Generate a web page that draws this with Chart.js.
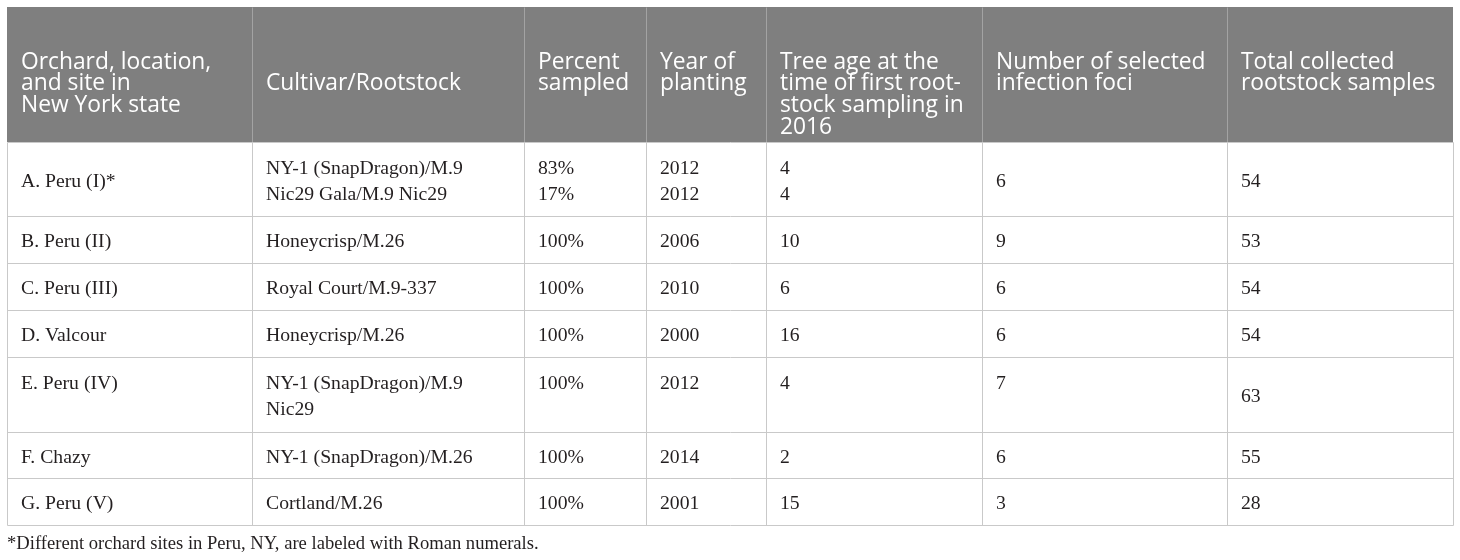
<!DOCTYPE html>
<html>
<head>
<meta charset="utf-8">
<script src="https://cdn.jsdelivr.net/npm/chart.js@4"></script>
<style>
  html, body { margin: 0; padding: 0; background: #ffffff; }
  #wrap { width: 1460px; height: 560px; position: relative; }
</style>
</head>
<body>
<div id="wrap"><canvas id="c" width="1460" height="560"></canvas></div>
<script>
// ---------- DATA ----------
const headers = [
  ["Orchard, location,", "and site in", "New York state"],
  ["", "Cultivar/Rootstock"],
  ["Percent", "sampled"],
  ["Year of", "planting"],
  ["Tree age at the", "time of first root-", "stock sampling in", "2016"],
  ["Number of selected", "infection foci"],
  ["Total collected", "rootstock samples"]
];
const orchards = ["A. Peru (I)*", "B. Peru (II)", "C. Peru (III)", "D. Valcour", "E. Peru (IV)", "F. Chazy", "G. Peru (V)"];
const cultivars = [
  ["NY-1 (SnapDragon)/M.9", "Nic29 Gala/M.9 Nic29"],
  ["Honeycrisp/M.26"],
  ["Royal Court/M.9-337"],
  ["Honeycrisp/M.26"],
  ["NY-1 (SnapDragon)/M.9", "Nic29"],
  ["NY-1 (SnapDragon)/M.26"],
  ["Cortland/M.26"]
];
const percentSampled = [["83%", "17%"], ["100%"], ["100%"], ["100%"], ["100%"], ["100%"], ["100%"]];
const yearOfPlanting = [[2012, 2012], [2006], [2010], [2000], [2012], [2014], [2001]];
const treeAge = [[4, 4], [10], [6], [16], [4], [2], [15]];
const infectionFoci = [6, 9, 6, 6, 7, 6, 3];
const totalSamples = [54, 53, 54, 54, 63, 55, 28];
const footnote = "*Different orchard sites in Peru, NY, are labeled with Roman numerals.";

// ---------- LAYOUT (positions / styles, kept apart from data) ----------
const colEdges = [7, 252, 524, 646, 766, 982, 1227, 1453];
const rowEdges = [7, 142, 216, 263, 310, 357, 432, 478, 525];
const topAligned = { 4: [0, 1, 2, 3, 4, 5] }; // row E: cells start on first line
const style = {
  headerBg: "#7f7f7f",
  headerDivider: "#a3a3a3",
  grid: "#c9c9c9",
  headerFont: '22.8px "Open Sans", "Noto Sans", sans-serif',
  bodyFont: '19.7px "Liberation Serif", "DejaVu Serif", serif',
  footFont: '18.6px "Liberation Serif", "DejaVu Serif", serif',
  bodyColor: "#231f20",
  padX: 14,
  headerFirstBaseline: 68.5,
  headerLineH: 21.8,
  bodyLineH: 26,
  bodyYOffset: 2.5,
  footY: 544
};

// ---------- build rows from the named arrays ----------
const toLines = v => Array.isArray(v) ? v.map(String) : [String(v)];
const bodyRows = orchards.map((o, i) => [
  toLines(o), toLines(cultivars[i]), toLines(percentSampled[i]), toLines(yearOfPlanting[i]),
  toLines(treeAge[i]), toLines(infectionFoci[i]), toLines(totalSamples[i])
]);

const tablePlugin = {
  id: "tablePlugin",
  afterDraw(chart) {
    const ctx = chart.ctx;
    const sx = chart.scales.x, sy = chart.scales.y;
    const X = v => sx.getPixelForValue(v);
    const Y = v => sy.getPixelForValue(v);
    ctx.save();

    // header background
    ctx.fillStyle = style.headerBg;
    ctx.fillRect(X(colEdges[0]), Y(rowEdges[0]), X(colEdges[7]) - X(colEdges[0]), Y(rowEdges[1]) - Y(rowEdges[0]));

    // grid lines
    ctx.lineWidth = 1;
    const line = (x1, y1, x2, y2, c) => {
      ctx.strokeStyle = c;
      ctx.beginPath();
      ctx.moveTo(Math.round(x1) + 0.5, Math.round(y1) + 0.5);
      ctx.lineTo(Math.round(x2) + 0.5, Math.round(y2) + 0.5);
      ctx.stroke();
    };
    for (let c = 1; c < colEdges.length - 1; c++) {
      line(X(colEdges[c]), Y(rowEdges[0]), X(colEdges[c]), Y(rowEdges[1]), style.headerDivider);
    }
    for (let c = 0; c < colEdges.length; c++) {
      line(X(colEdges[c]), Y(rowEdges[1]), X(colEdges[c]), Y(rowEdges[rowEdges.length - 1]), style.grid);
    }
    for (let r = 1; r < rowEdges.length; r++) {
      line(X(colEdges[0]), Y(rowEdges[r]), X(colEdges[7]), Y(rowEdges[r]), style.grid);
    }

    // header text
    ctx.fillStyle = "#ffffff";
    ctx.font = style.headerFont;
    ctx.textAlign = "left";
    ctx.textBaseline = "alphabetic";
    headers.forEach((lines, c) => {
      lines.forEach((t, k) => {
        if (!t) return;
        ctx.fillText(t, X(colEdges[c]) + style.padX, Y(style.headerFirstBaseline + k * style.headerLineH));
      });
    });

    // body text
    ctx.fillStyle = style.bodyColor;
    ctx.font = style.bodyFont;
    ctx.textBaseline = "middle";
    bodyRows.forEach((cells, r) => {
      const top = rowEdges[r + 1], bottom = rowEdges[r + 2];
      const mid = (top + bottom) / 2 + style.bodyYOffset;
      const rowLines = Math.max(...cells.map(c => c.length));
      cells.forEach((lines, c) => {
        const isTop = topAligned[r] && topAligned[r].includes(c);
        const n = isTop ? rowLines : lines.length;
        const start = mid - (n - 1) * style.bodyLineH / 2;
        lines.forEach((t, k) => {
          ctx.fillText(t, X(colEdges[c]) + style.padX, Y(start + k * style.bodyLineH));
        });
      });
    });

    // footnote
    ctx.font = style.footFont;
    ctx.fillText(footnote, X(colEdges[0]), Y(style.footY));
    ctx.restore();
  }
};

new Chart(document.getElementById("c"), {
  type: "scatter",
  data: { datasets: [{ data: [], pointRadius: 0 }] },
  options: {
    responsive: false,
    animation: false,
    layout: { padding: 0 },
    plugins: { legend: { display: false }, tooltip: { enabled: false } },
    scales: {
      x: { type: "linear", min: 0, max: 1460, display: false },
      y: { type: "linear", min: 0, max: 560, reverse: true, display: false }
    }
  },
  plugins: [tablePlugin]
});
</script>
</body>
</html>
